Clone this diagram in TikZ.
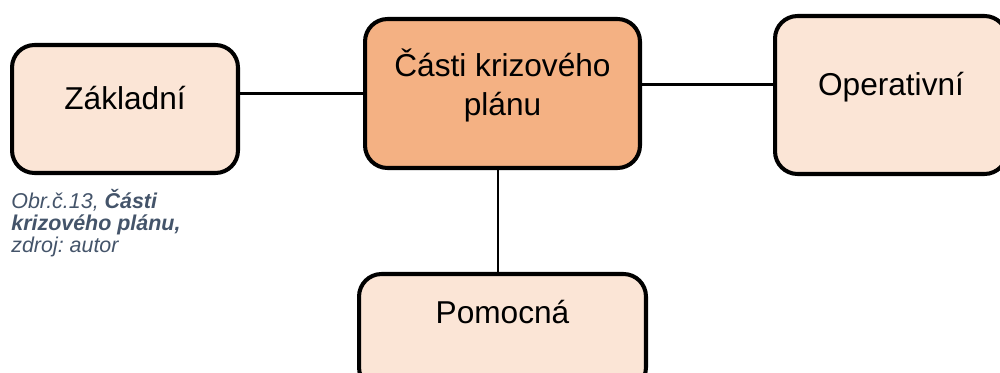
\documentclass[tikz,border=0pt]{standalone}
\usepackage{fontspec}
\setmainfont{Liberation Sans}
\usetikzlibrary{positioning}
\definecolor{boxlight}{HTML}{FBE5D6}
\definecolor{boxdark}{HTML}{F4B183}
\definecolor{captiongray}{HTML}{44546A}
\frenchspacing
\begin{document}
\begin{tikzpicture}[x=0.02cm,y=-0.02cm,
						partnode/.style={rectangle, rounded corners=0.45cm, draw=black, line width=2.3pt, fill=boxlight,
							text height=0pt, text depth=0pt, font=\fontsize{18}{22.2}\selectfont},
						mainnode/.style={partnode, fill=boxdark, align=center, text height=0.9cm},
						captionnode/.style={anchor=north west, inner sep=0pt, align=left, text=captiongray,
							font=\fontsize{12.2}{12.4}\selectfont\itshape},
						link/.style={line width=1.5pt},
						]
						\useasboundingbox (0,0) rectangle (1000,372);
						%Nodes
						\node[partnode, minimum width=4.52cm, minimum height=2.56cm]  (zakladni)  at (125,109)   {Základní};
						\node[mainnode, minimum width=5.5cm, minimum height=2.98cm]   (casti)     at (502.5,93.5) {Části krizového\\plánu};
						\node[partnode, minimum width=4.64cm, minimum height=3.16cm]  (operativni) at (891,95)   {Operativní};
						\node[partnode, minimum width=5.74cm, minimum height=2.32cm, text depth=0.36cm]  (pomocna)   at (502.5,332) {Pomocná};
						\node[captionnode] (popis) at (11,189) {Obr.č.13, \textbf{Části}\\\textbf{krizového plánu,}\\zdroj: autor};
						
						%Lines
						\draw[link] (casti.west) -- (casti.west -| zakladni.east);
						\draw[link] ([yshift=0.21cm]operativni.west) -- ([yshift=0.21cm]operativni.west -| casti.east);
						\draw[link] ([xshift=-0.09cm]casti.south) -- ([xshift=-0.09cm]pomocna.north);
\end{tikzpicture}
\end{document}
